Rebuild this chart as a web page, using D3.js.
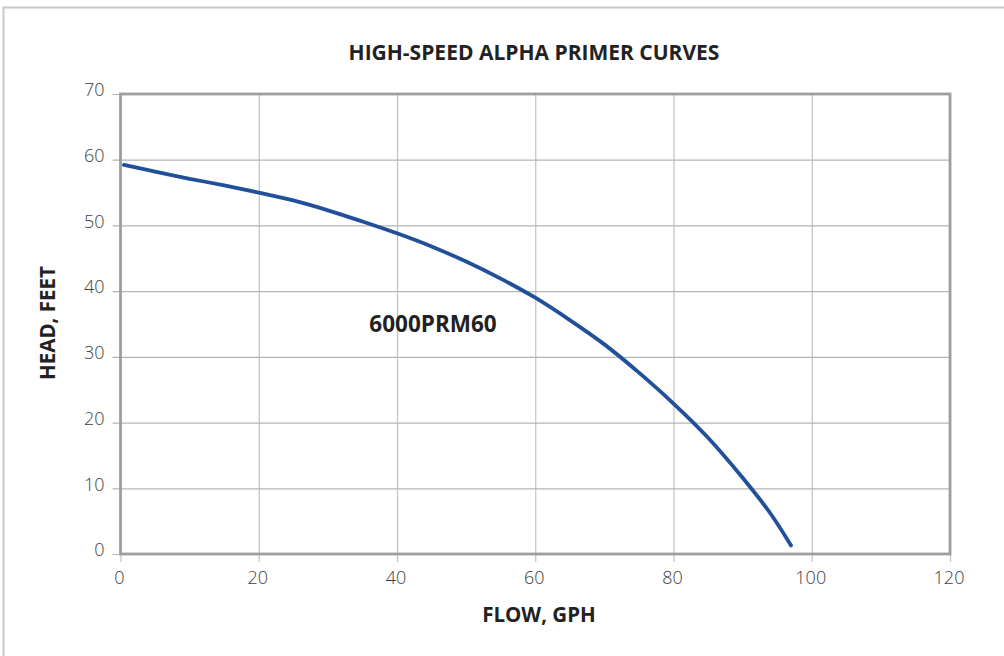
<!DOCTYPE html>
<html>
<head>
<meta charset="utf-8">
<script src="https://cdn.jsdelivr.net/npm/d3@7"></script>
<style>
  html, body { margin: 0; padding: 0; background: #fff; }
  svg { display: block; }
</style>
</head>
<body>
<svg id="chart" width="1004" height="656"></svg>
<script>
const title = "HIGH-SPEED ALPHA PRIMER CURVES";
const xLabel = "FLOW, GPH";
const yLabel = "HEAD, FEET";
const seriesName = "6000PRM60";
const xTicks = [0, 20, 40, 60, 80, 100, 120];
const yTicks = [0, 10, 20, 30, 40, 50, 60, 70];
const flow = [0.5, 5, 10, 15, 20, 25, 30, 35, 40, 45, 50, 55, 60, 65, 70, 75, 80, 85, 90, 94, 97];
const head = [59.2, 58.2, 57.1, 56.1, 55, 53.8, 52.3, 50.6, 48.8, 46.8, 44.5, 41.9, 39, 35.6, 31.9, 27.6, 22.9, 17.7, 11.6, 6.2, 1.3];

const svg = d3.select("#chart");
const W = 1004, H = 656;
const m = { left: 120.5, right: 950, top: 94, bottom: 554 };

const x = d3.scaleLinear().domain([0, 120]).range([m.left, m.right]);
const y = d3.scaleLinear().domain([0, 70]).range([m.bottom, m.top]);

// outer border (top & left)
svg.append("line").attr("x1", 3).attr("x2", W).attr("y1", 7.5).attr("y2", 7.5)
  .attr("stroke", "#c8c8c8").attr("stroke-width", 2);
svg.append("line").attr("x1", 3.5).attr("x2", 3.5).attr("y1", 7).attr("y2", H)
  .attr("stroke", "#c8c8c8").attr("stroke-width", 2);

const tickFont = "'Open Sans', 'Noto Sans', sans-serif";

// grid via axes
const gx = svg.append("g").attr("transform", `translate(0,${m.bottom})`)
  .call(d3.axisBottom(x).tickValues(xTicks).tickSize(-(m.bottom - m.top)).tickSizeOuter(0).tickFormat(""));
gx.select(".domain").remove();
gx.selectAll(".tick line").attr("stroke", "#c2c2c2").attr("stroke-width", 1.2)
  .attr("y2", -(m.bottom - m.top)).attr("y1", 8);

const gy = svg.append("g").attr("transform", `translate(${m.left},0)`)
  .call(d3.axisLeft(y).tickValues(yTicks).tickSize(-(m.right - m.left)).tickSizeOuter(0).tickFormat(""));
gy.select(".domain").remove();
gy.selectAll(".tick line").attr("stroke", "#b4b4b4").attr("stroke-width", 1.2)
  .attr("x2", m.right - m.left).attr("x1", -8);

// tick labels
const xl = svg.append("g").attr("transform", `translate(0,${m.bottom + 36})`)
  .call(d3.axisBottom(x).tickValues(xTicks).tickSize(0).tickPadding(0));
xl.select(".domain").remove();
xl.selectAll("text").attr("font-family", tickFont).attr("font-weight", 300)
  .attr("font-size", 18).attr("fill", "#3e3e3e").attr("dy", "-0.35em").attr("dx", -1.5);

const yl = svg.append("g").attr("transform", `translate(${m.left - 16},0)`)
  .call(d3.axisLeft(y).tickValues(yTicks).tickSize(0).tickPadding(0));
yl.select(".domain").remove();
yl.selectAll("text").attr("font-family", tickFont).attr("font-weight", 300)
  .attr("font-size", 18).attr("fill", "#3e3e3e").attr("dy", "0.1em");

// frame
svg.append("rect").attr("x", m.left).attr("y", m.top)
  .attr("width", m.right - m.left).attr("height", m.bottom - m.top)
  .attr("fill", "none").attr("stroke", "#9e9e9e").attr("stroke-width", 2.8);

// curve
const pts = flow.map((f, i) => [f, head[i]]);
svg.append("path").datum(pts)
  .attr("d", d3.line().x(d => x(d[0])).y(d => y(d[1])).curve(d3.curveCatmullRom.alpha(0.5)))
  .attr("fill", "none").attr("stroke", "#21509a").attr("stroke-width", 3.8)
  .attr("stroke-linecap", "round");

const boldFont = "'Open Sans', 'Noto Sans', sans-serif";
svg.append("text").attr("x", 534).attr("y", 60).attr("text-anchor", "middle")
  .attr("font-family", boldFont).attr("font-weight", 700).attr("font-size", 21)
  .attr("fill", "#222").text(title);

svg.append("text").attr("x", 433).attr("y", 332).attr("text-anchor", "middle")
  .attr("font-family", boldFont).attr("font-weight", 700).attr("font-size", 22.5)
  .attr("fill", "#222").text(seriesName);

svg.append("text").attr("x", 539).attr("y", 622).attr("text-anchor", "middle")
  .attr("font-family", boldFont).attr("font-weight", 700).attr("font-size", 20.5)
  .attr("fill", "#222").text(xLabel);

svg.append("text").attr("transform", "translate(55,323) rotate(-90)").attr("text-anchor", "middle")
  .attr("font-family", boldFont).attr("font-weight", 700).attr("font-size", 20.5)
  .attr("fill", "#222").text(yLabel);
</script>
</body>
</html>
